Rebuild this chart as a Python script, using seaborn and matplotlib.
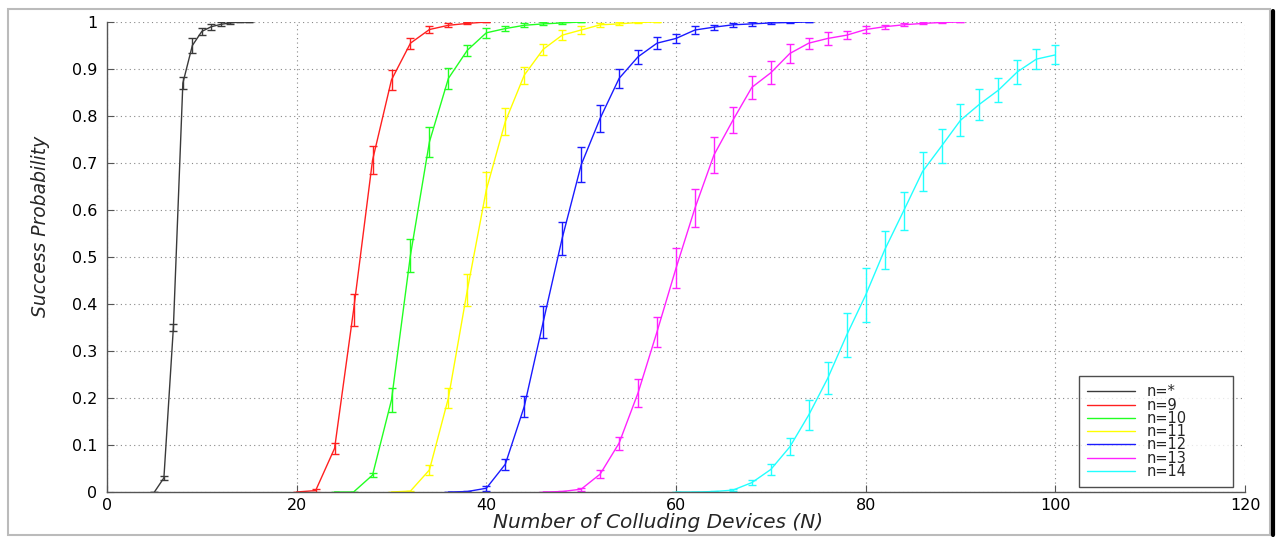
#!/usr/bin/env python3
import numpy as np
import pandas as pd
import matplotlib
matplotlib.use('Agg')
import matplotlib.pyplot as plt
import seaborn as sns
from matplotlib.lines import Line2D

# Success probability vs number of colluding devices, one curve per n
labels = ['n=*', 'n=9', 'n=10', 'n=11', 'n=12', 'n=13', 'n=14']
colors = ['#3a3a3a', '#ff2020', '#22ff22', '#ffff00', '#1a1aff', '#ff22ff', '#22ffff']

black_x = [5, 6, 7, 8, 9, 10, 11, 12, 13, 14, 15]
black_y = [0, 0.03, 0.35, 0.87, 0.95, 0.98, 0.99, 0.995, 0.998, 1.0, 1.0]
black_e = [0, 0.004, 0.008, 0.012, 0.015, 0.008, 0.006, 0.004, 0.002, 0.001, 0]

red_x = [20, 22, 24, 26, 28, 30, 32, 34, 36, 38, 40]
red_y = [0, 0.003, 0.093, 0.387, 0.706, 0.877, 0.955, 0.984, 0.993, 0.997, 1.0]
red_e = [0, 0.003, 0.012, 0.034, 0.030, 0.021, 0.012, 0.008, 0.004, 0.002, 0]

green_x = [24, 26, 28, 30, 32, 34, 36, 38, 40, 42, 44, 46, 48, 50]
green_y = [0, 0, 0.036, 0.196, 0.504, 0.745, 0.88, 0.94, 0.977, 0.986, 0.993, 0.996, 0.998, 1.0]
green_e = [0, 0, 0.004, 0.025, 0.035, 0.032, 0.023, 0.012, 0.010, 0.006, 0.004, 0.003, 0.002, 0]

yellow_x = [30, 32, 34, 36, 38, 40, 42, 44, 46, 48, 50, 52, 54, 56, 58]
yellow_y = [0, 0.002, 0.047, 0.2, 0.43, 0.643, 0.788, 0.887, 0.942, 0.972, 0.983, 0.994, 0.996, 0.999, 1.0]
yellow_e = [0, 0.001, 0.011, 0.021, 0.034, 0.037, 0.028, 0.018, 0.012, 0.011, 0.008, 0.004, 0.003, 0.001, 0]

blue_x = [36, 38, 40, 42, 44, 46, 48, 50, 52, 54, 56, 58, 60, 62, 64, 66, 68, 70, 72, 74]
blue_y = [0, 0.001, 0.008, 0.059, 0.182, 0.362, 0.54, 0.696, 0.795, 0.88,
          0.926, 0.955, 0.965, 0.983, 0.989, 0.994, 0.996, 0.998, 0.999, 1.0]
blue_e = [0, 0.001, 0.005, 0.012, 0.023, 0.034, 0.035, 0.037, 0.028, 0.021,
          0.015, 0.013, 0.009, 0.008, 0.005, 0.004, 0.004, 0.003, 0.002, 0]

magenta_x = [46, 48, 50, 52, 54, 56, 58, 60, 62, 64, 66, 68, 70, 72, 74, 76, 78, 80, 82, 84, 86, 88, 90]
magenta_y = [0, 0.001, 0.006, 0.038, 0.104, 0.211, 0.341, 0.476, 0.604, 0.717, 0.791, 0.861,
             0.892, 0.933, 0.955, 0.965, 0.972, 0.984, 0.99, 0.994, 0.997, 0.999, 1.0]
magenta_e = [0, 0.001, 0.003, 0.008, 0.014, 0.030, 0.032, 0.043, 0.041, 0.039, 0.028, 0.024,
             0.024, 0.020, 0.012, 0.013, 0.009, 0.007, 0.004, 0.003, 0.002, 0.001, 0]

cyan_x = [60, 62, 64, 66, 68, 70, 72, 74, 76, 78, 80, 82, 84, 86, 88, 90, 92, 94, 96, 98, 100]
cyan_y = [0, 0, 0.001, 0.004, 0.02, 0.048, 0.096, 0.164, 0.242, 0.334, 0.419, 0.515,
          0.598, 0.682, 0.736, 0.791, 0.825, 0.855, 0.894, 0.921, 0.93]
cyan_e = [0, 0, 0.001, 0.002, 0.005, 0.012, 0.018, 0.032, 0.034, 0.046, 0.057, 0.041,
          0.041, 0.041, 0.037, 0.034, 0.033, 0.026, 0.025, 0.021, 0.020]

xs = [black_x, red_x, green_x, yellow_x, blue_x, magenta_x, cyan_x]
ys = [black_y, red_y, green_y, yellow_y, blue_y, magenta_y, cyan_y]
es = [black_e, red_e, green_e, yellow_e, blue_e, magenta_e, cyan_e]

df = pd.concat([pd.DataFrame({'N': x, 'P': y, 'err': e, 'series': lab})
                for x, y, e, lab in zip(xs, ys, es, labels)], ignore_index=True)

sns.set_theme(style='white')
plt.rcParams['font.family'] = ['DejaVu Sans']

fig = plt.figure(figsize=(12.76, 5.38), dpi=100)
ax = fig.add_axes([107 / 1276, 46 / 538, 1138 / 1276, 470 / 538])

sns.lineplot(data=df, x='N', y='P', hue='series', hue_order=labels,
             palette=colors, linewidth=1.0, ax=ax, legend=False, sort=False,
             estimator=None, errorbar=None)
for lab, col in zip(labels, colors):
    d = df[df['series'] == lab]
    ax.errorbar(d['N'], d['P'], yerr=d['err'], fmt='none', ecolor=col,
                elinewidth=1.0, capsize=3, capthick=1.0)

ax.set_xlim(0, 120)
ax.set_ylim(0, 1)
ax.set_xticks(np.arange(0, 121, 20))
ax.set_yticks(np.arange(0, 1.01, 0.1))
ax.set_yticklabels(['0', '0.1', '0.2', '0.3', '0.4', '0.5', '0.6', '0.7', '0.8', '0.9', '1'])
ax.tick_params(direction='in', length=5, width=0.8, color='#555555',
               labelsize=11.5, labelcolor='black', left=True, bottom=True)
ax.tick_params(axis='y', pad=7)
ax.tick_params(axis='x', pad=4)
ax.grid(True, color='#888888', linestyle=(0, (1, 3)), linewidth=0.8)
for s in ['top', 'right']:
    ax.spines[s].set_visible(False)
for s in ['left', 'bottom']:
    ax.spines[s].set_color('#555555')
    ax.spines[s].set_linewidth(1.0)

ax.set_xlabel('Number of Colluding Devices (N)', fontsize=14.5, style='italic')
ax.set_ylabel('Success Probability', fontsize=13.5, style='italic')
ax.xaxis.set_label_coords((658 - 107) / 1138, -0.045)
ax.yaxis.set_label_coords(-0.050, 0.565)

handles = [Line2D([0], [0], color=c, lw=1.0) for c in colors]
leg = ax.legend(handles, labels, loc='lower left',
                bbox_to_anchor=((1079 - 107) / 1138, 5 / 470, 154 / 1138, 0.2),
                mode='expand', borderaxespad=0, fontsize=10.5, labelspacing=-0.12,
                handlelength=3.3, handletextpad=0.8, borderpad=0.55,
                frameon=True, fancybox=False)
leg.get_frame().set_edgecolor('#222222')
leg.get_frame().set_linewidth(1.0)

# window-like frame around the figure
fig.add_artist(plt.Rectangle((8 / 1276, 3 / 538), 1262 / 1276, 526 / 538,
                             transform=fig.transFigure, fill=False,
                             edgecolor='#bbbbbb', linewidth=1.5))
fig.add_artist(Line2D([1273 / 1276, 1273 / 1276], [3 / 538, 527 / 538],
                      transform=fig.transFigure, color='black', linewidth=3))

fig.savefig('out.png', dpi=100)
plt.close(fig)
